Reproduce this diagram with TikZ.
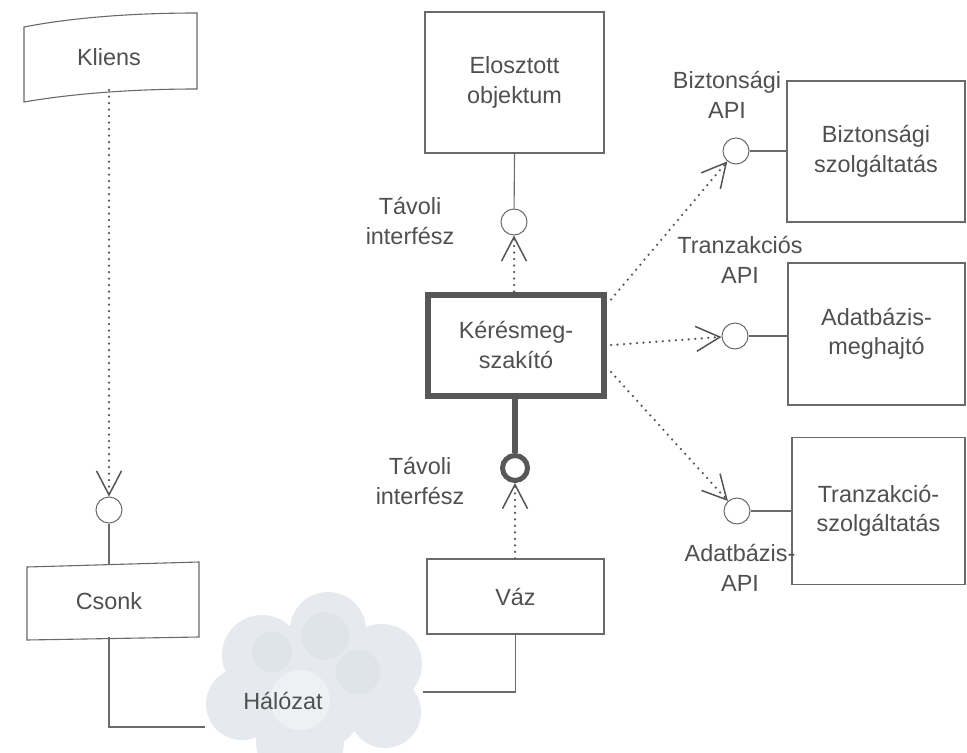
\documentclass[tikz,border=0pt]{standalone}
\usepackage{fontspec}
\setmainfont{Liberation Sans}
\usetikzlibrary{arrows.meta,calc}
\definecolor{ink}{HTML}{505050}
\definecolor{linec}{HTML}{6A6A6A}
\definecolor{dotc}{HTML}{555555}
\definecolor{heavy}{HTML}{575757}
\definecolor{cloudA}{HTML}{E6EAEF}
\definecolor{cloudB}{HTML}{DAE0E7}
\begin{document}
\begin{tikzpicture}[x=1bp,y=-1bp,
  font=\fontsize{23.5}{29.5}\selectfont,
  every node/.style={text=ink, align=center, inner sep=0pt},
  box/.style={draw=linec, line width=1.1bp, rectangle},
  heavybox/.style={draw=heavy, line width=6bp, rectangle},
  port/.style={draw=linec, circle, minimum size=26bp, line width=1bp, fill=white},
  heavyport/.style={draw=heavy, circle, minimum size=25bp, line width=5bp, fill=white},
  wire/.style={draw=linec, line width=1.1bp},
  heavywire/.style={draw=heavy, line width=6bp},
  uses/.style={draw=dotc, line width=2.5bp, dash pattern=on 0bp off 6.5bp, line cap=round,
    -{Straight Barb[length=24bp,width=25bp,line width=1.5bp]}}
]
\useasboundingbox (0,0) rectangle (967,753);
\fill[white] (0,0) rectangle (967,753);

% network cloud, soft layered puffs
\begin{scope}
  \clip (0,0) rectangle (967,753);
  \fill[cloudA] (262,655) circle (40) (328,630) circle (38) (382,664) circle (40)
    (242,704) circle (36) (310,697) circle (56) (385,712) circle (36) (300,742) circle (44);
  \fill[cloudB, opacity=0.6] (272,652) circle (20) (325,636) circle (24) (358,672) circle (22);
  \fill[white, opacity=0.35] (300,700) circle (30);
\end{scope}
\node (net) at (283,701) {Hálózat};
\coordinate (netL) at (205,727);
\coordinate (netR) at (423,692);

% client side
\draw[wire] (24,27) .. controls (70,18) and (130,13) .. (197,13) -- (197,89)
  .. controls (130,89) and (70,94) .. (24,102) -- cycle;
\node[minimum height=66bp] (kliens) at (109,57) {Kliens};
\draw[wire] (27,567) -- (199,562) -- (199,637) -- (27,640) -- cycle;
\node[minimum height=71bp] (csonk) at (109,601) {Csonk};
\node[port] (ckl) at (109,510) {};

% server side
\node[box, minimum width=179bp, minimum height=141bp] (elo) at (514.5,82.5) {Elosztott\\objektum};
\node[port] (celo) at (514,222) {};
\node[heavybox, minimum width=176bp, minimum height=101bp] (kms) at (516,345) {Kérésmeg-\\szakító};
\node[heavyport] (ckms) at (515,468) {};
\node[box, minimum width=177bp, minimum height=75bp] (vaz) at (515.5,596.5) {Váz};

% services
\node[box, minimum width=178bp, minimum height=141bp] (bsz) at (876,151.5) {Biztonsági\\szolgáltatás};
\node[box, minimum width=177bp, minimum height=142bp] (adm) at (876.5,334) {Adatbázis-\\meghajtó};
\node[box, minimum width=173bp, minimum height=147bp] (trs) at (878.5,511) {Tranzakció-\\szolgáltatás};
\node[port] (cbz) at (736,151) {};
\node[port] (ctr) at (735,336) {};
\node[port] (cad) at (737,511) {};

% labels
\node (l1) at (410,221) {Távoli\\interfész};
\node (l2) at (420,481) {Távoli\\interfész};
\node (l3) at (727,95) {Biztonsági\\API};
\node (l4) at (740,260) {Tranzakciós\\API};
\node (l5) at (740,568) {Adatbázis-\\API};

% connectors
\draw[uses] (kliens.south) -- (ckl);
\draw[wire] (ckl) -- (csonk.north);
\draw[wire] (csonk.south) |- (netL);
\draw[wire] (vaz.south) |- (netR);
\draw[wire] (elo.south) -- (celo);
\draw[uses] (kms.north -| celo) -- (celo);
\draw[heavywire] (kms.south -| ckms) -- (ckms);
\draw[uses] (vaz.north -| ckms) -- (ckms);
\draw[uses] ($(kms.north east)+(4,8)$) -- (cbz);
\draw[uses] ($(kms.east)+(4,0)$) -- (ctr);
\draw[uses] ($(kms.east)+(4,27)$) -- (cad);
\draw[wire] (cbz) -- (cbz -| bsz.west);
\draw[wire] (ctr) -- (ctr -| adm.west);
\draw[wire] (cad) -- (cad -| trs.west);
\end{tikzpicture}
\end{document}
